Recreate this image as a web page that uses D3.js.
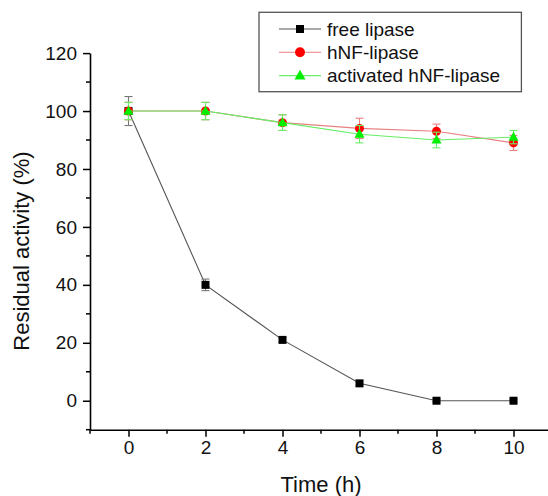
<!DOCTYPE html>
<html><head><meta charset="utf-8">
<script src="https://cdn.jsdelivr.net/npm/d3@7"></script>
<style>body{margin:0;background:#fff}svg{display:block;font-family:"Liberation Sans",Arial,sans-serif}</style>
</head><body><svg id="c" width="548" height="496"></svg>
<script>
const times = [0, 2, 4, 6, 8, 10];
const freeLipase = [100, 40, 21, 6, 0, 0];
const freeErr = [5, 2, 0.8, 0.8, 0.5, 0.5];
const hnfLipase = [100, 100, 96, 94, 93, 89];
const hnfErr = [3, 3, 2.7, 3.5, 2.5, 2.6];
const actLipase = [100, 100, 96, 92, 90, 91];
const actErr = [3, 3, 2.7, 3, 2.7, 2.3];
const seriesNames = ["free lipase", "hNF-lipase", "activated hNF-lipase"];
const xTicks = [0, 2, 4, 6, 8, 10];
const yTicks = [0, 20, 40, 60, 80, 100, 120];

const svg = d3.select("#c");
const x = d3.scaleLinear().domain([-1, 11]).range([90, 552]);
const y = d3.scaleLinear().domain([-10, 120]).range([429.7, 53.1]);

const series = [
  {name: seriesNames[0], vals: freeLipase, err: freeErr, line: "#555", errc: "#777", fill: "#000", shape: "square"},
  {name: seriesNames[1], vals: hnfLipase, err: hnfErr, line: "#e88080", errc: "#e88080", fill: "#ff0000", shape: "circle"},
  {name: seriesNames[2], vals: actLipase, err: actErr, line: "#66ee66", errc: "#66ee66", fill: "#00ee00", shape: "triangle"}
];

function marker(g, shape, cx, cy, s, fill) {
  if (shape === "square") {
    g.append("rect").attr("x", cx - s/2).attr("y", cy - s/2).attr("width", s).attr("height", s).attr("fill", fill);
  } else if (shape === "circle") {
    g.append("circle").attr("cx", cx).attr("cy", cy).attr("r", s/2).attr("fill", fill);
  } else {
    const h = s * 0.9;
    g.append("path").attr("d", `M${cx},${cy - h*0.6}L${cx + s/2},${cy + h*0.4}L${cx - s/2},${cy + h*0.4}Z`).attr("fill", fill);
  }
}

// Axes
const xAxis = d3.axisBottom(x).tickValues(xTicks).tickSize(7).tickSizeOuter(0).tickPadding(4).tickFormat(d3.format("d"));
const gx = svg.append("g").attr("transform", `translate(0,${y(-10)})`).call(xAxis);
gx.select(".domain").attr("stroke", "#000").attr("stroke-width", 1.6);
gx.selectAll(".tick line").attr("stroke-width", 1.5);
gx.selectAll("text").attr("font-size", 19).attr("fill", "#111").attr("font-family", "Liberation Sans, Arial, sans-serif");
// minor x ticks
svg.append("g").selectAll("line").data([-1, 1, 3, 5, 7, 9, 11]).join("line")
  .attr("x1", d => x(d)).attr("x2", d => x(d)).attr("y1", y(-10)).attr("y2", y(-10) + 4)
  .attr("stroke", "#000").attr("stroke-width", 1.5);

const yAxis = d3.axisLeft(y).tickValues(yTicks).tickSize(7).tickSizeOuter(0).tickPadding(6).tickFormat(d3.format("d"));
const gy = svg.append("g").attr("transform", `translate(${x(-1)},0)`).call(yAxis);
gy.select(".domain").attr("stroke", "#000").attr("stroke-width", 1.6);
gy.selectAll(".tick line").attr("stroke-width", 1.5);
gy.selectAll("text").attr("font-size", 19).attr("fill", "#111").attr("font-family", "Liberation Sans, Arial, sans-serif");
svg.append("g").selectAll("line").data([-10, 10, 30, 50, 70, 90, 110]).join("line")
  .attr("x1", x(-1) - 4).attr("x2", x(-1)).attr("y1", d => y(d)).attr("y2", d => y(d))
  .attr("stroke", "#000").attr("stroke-width", 1.5);

// Titles
svg.append("text").attr("x", x(5)).attr("y", 492).attr("text-anchor", "middle")
  .attr("font-size", 22).attr("fill", "#111").text("Time (h)");
svg.append("text").attr("transform", `translate(29,251) rotate(-90)`).attr("text-anchor", "middle")
  .attr("font-size", 22).attr("fill", "#111").text("Residual activity (%)");

// Series
const line = d3.line().x(d => x(d[0])).y(d => y(d[1]));
series.forEach(s => {
  const g = svg.append("g");
  const pts = times.map((t, i) => [t, s.vals[i], s.err[i]]);
  g.append("path").datum(pts).attr("d", line).attr("fill", "none").attr("stroke", s.line).attr("stroke-width", 1.1);
  pts.forEach(p => {
    const cx = x(p[0]);
    g.append("line").attr("x1", cx).attr("x2", cx).attr("y1", y(p[1] - p[2])).attr("y2", y(p[1] + p[2])).attr("stroke", s.errc).attr("stroke-width", 1.1);
    [p[1] - p[2], p[1] + p[2]].forEach(v => {
      g.append("line").attr("x1", cx - 4).attr("x2", cx + 4).attr("y1", y(v)).attr("y2", y(v)).attr("stroke", s.errc).attr("stroke-width", 1.1);
    });
  });
  pts.forEach(p => marker(g, s.shape, x(p[0]), y(p[1]), s.shape === "square" ? 8 : (s.shape === "circle" ? 9 : 10), s.fill));
});

// Legend
const lg = svg.append("g");
lg.append("rect").attr("x", 259).attr("y", 12.3).attr("width", 262.4).attr("height", 79.4)
  .attr("fill", "#fff").attr("stroke", "#555").attr("stroke-width", 1.3);
series.forEach((s, i) => {
  const cy = 29 + i * 23.3;
  lg.append("line").attr("x1", 279).attr("x2", 321).attr("y1", cy).attr("y2", cy).attr("stroke", s.line).attr("stroke-width", 1.1);
  marker(lg, s.shape, 300, cy, s.shape === "square" ? 8 : (s.shape === "circle" ? 10 : 11), s.fill);
  lg.append("text").attr("x", 327).attr("y", cy + 6.8).attr("font-size", 19).attr("fill", "#111").text(s.name);
});
</script></body></html>
